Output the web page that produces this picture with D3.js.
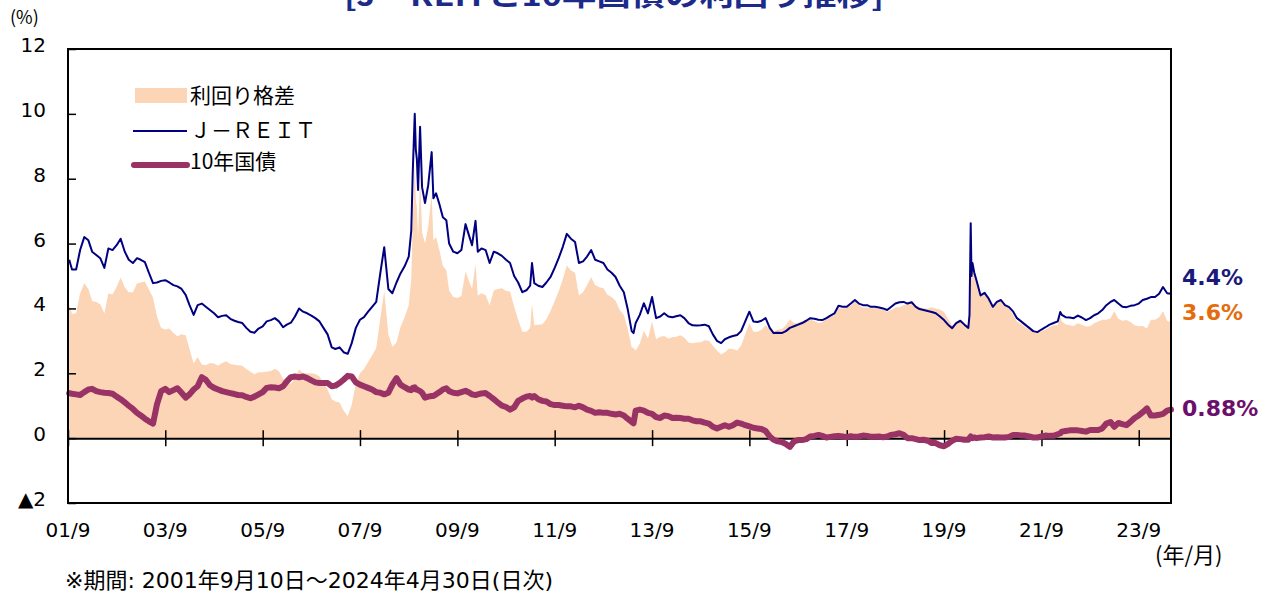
<!DOCTYPE html>
<html>
<head>
<meta charset="utf-8">
<script src="https://cdn.jsdelivr.net/npm/d3@7"></script>
<style>
  body { margin: 0; background: #fff; }
  text { font-family: "Noto Sans CJK JP", "Noto Sans", sans-serif; }
  .num { font-family: "DejaVu Sans", "Noto Sans CJK JP", sans-serif; }
</style>
</head>
<body>
<div id="chart"></div>
<script>
// daily series at roughly monthly steps (extra points at spikes)
const dates = [
  "2001-09-10","2001-10-01","2001-11-01","2001-12-01","2002-01-01","2002-02-01","2002-03-01","2002-04-01",
  "2002-05-01","2002-06-01","2002-07-01","2002-08-01","2002-09-01","2002-10-01","2002-11-01","2002-12-01",
  "2003-01-01","2003-02-01","2003-03-01","2003-04-01","2003-05-01","2003-06-01","2003-07-01","2003-08-01",
  "2003-09-01","2003-10-01","2003-11-01","2003-12-01","2004-01-01","2004-02-01","2004-03-01","2004-04-01",
  "2004-05-01","2004-06-01","2004-07-01","2004-08-01","2004-09-01","2004-10-01","2004-11-01","2004-12-01",
  "2005-01-01","2005-02-01","2005-03-01","2005-04-01","2005-05-01","2005-06-01","2005-07-01","2005-08-01",
  "2005-09-01","2005-10-01","2005-11-01","2005-12-01","2006-01-01","2006-02-01","2006-03-01","2006-04-01",
  "2006-05-01","2006-06-01","2006-07-01","2006-08-01","2006-09-01","2006-10-01","2006-11-01","2006-12-01",
  "2007-01-01","2007-02-01","2007-03-01","2007-04-01","2007-05-01","2007-06-01","2007-07-01","2007-08-01",
  "2007-09-01","2007-10-01","2007-11-01","2007-12-01","2008-01-01","2008-02-01","2008-03-01","2008-04-01",
  "2008-05-01","2008-06-01","2008-07-01","2008-08-01","2008-09-01","2008-09-20","2008-10-01","2008-10-16",
  "2008-10-24","2008-11-01","2008-11-10","2008-11-25","2008-12-10","2009-01-01","2009-01-25","2009-02-20",
  "2009-03-05","2009-03-25","2009-04-20","2009-05-15","2009-06-10","2009-07-01","2009-08-01","2009-09-01",
  "2009-10-01","2009-11-01","2009-12-01","2009-12-20","2010-01-15","2010-02-01","2010-03-01","2010-04-01",
  "2010-05-01","2010-06-01","2010-07-01","2010-08-01","2010-09-01","2010-10-01","2010-11-01","2010-12-01",
  "2011-01-01","2011-02-01","2011-03-01","2011-03-15","2011-04-01","2011-05-01","2011-06-01","2011-07-01",
  "2011-08-01","2011-09-01","2011-10-01","2011-11-01","2011-12-01","2012-01-01","2012-02-01","2012-03-01",
  "2012-04-01","2012-05-01","2012-06-01","2012-07-01","2012-08-01","2012-09-01","2012-10-01","2012-11-01",
  "2012-12-01","2013-01-01","2013-02-01","2013-03-01","2013-04-01","2013-04-15","2013-05-01","2013-06-01",
  "2013-07-01","2013-08-01","2013-09-01","2013-10-01","2013-11-01","2013-12-01","2014-01-01","2014-02-01",
  "2014-03-01","2014-04-01","2014-05-01","2014-06-01","2014-07-01","2014-08-01","2014-09-01","2014-10-01",
  "2014-11-01","2014-12-01","2015-01-01","2015-02-01","2015-03-01","2015-04-01","2015-05-01","2015-06-01",
  "2015-07-01","2015-08-01","2015-09-01","2015-10-01","2015-11-01","2015-12-01","2016-01-01","2016-02-01",
  "2016-03-01","2016-04-01","2016-05-01","2016-06-01","2016-07-01","2016-08-01","2016-09-01","2016-10-01",
  "2016-11-01","2016-12-01","2017-01-01","2017-02-01","2017-03-01","2017-04-01","2017-05-01","2017-06-01",
  "2017-07-01","2017-08-01","2017-09-01","2017-10-01","2017-11-01","2017-12-01","2018-01-01","2018-02-01",
  "2018-03-01","2018-04-01","2018-05-01","2018-06-01","2018-07-01","2018-08-01","2018-09-01","2018-10-01",
  "2018-11-01","2018-12-01","2019-01-01","2019-02-01","2019-03-01","2019-04-01","2019-05-01","2019-06-01",
  "2019-07-01","2019-08-01","2019-09-01","2019-10-01","2019-11-01","2019-12-01","2020-01-01","2020-02-01",
  "2020-03-01","2020-03-10","2020-03-19","2020-03-25","2020-04-01","2020-04-15","2020-05-01","2020-06-01",
  "2020-07-01","2020-08-01","2020-09-01","2020-10-01","2020-11-01","2020-12-01","2021-01-01","2021-02-01",
  "2021-03-01","2021-04-01","2021-05-01","2021-06-01","2021-07-01","2021-08-01","2021-09-01","2021-10-01",
  "2021-11-01","2021-12-01","2022-01-01","2022-01-20","2022-02-01","2022-03-01","2022-04-01","2022-05-01",
  "2022-06-01","2022-07-01","2022-08-01","2022-09-01","2022-10-01","2022-11-01","2022-12-01","2023-01-01",
  "2023-02-01","2023-03-01","2023-04-01","2023-05-01","2023-06-01","2023-07-01","2023-08-01","2023-09-01",
  "2023-10-01","2023-11-01","2023-12-01","2024-01-01","2024-02-01","2024-03-01","2024-04-01","2024-04-30"
];

const jreitYield = [
  5.5,5.2,5.2,5.8,6.2,6.1,5.75,5.65,
  5.55,5.25,5.85,5.8,5.95,6.15,5.75,5.5,
  5.4,5.55,5.5,5.43,5.1,4.78,4.8,4.85,
  4.87,4.8,4.72,4.68,4.6,4.42,4.1,3.8,
  4.1,4.15,4.05,3.95,3.85,3.73,3.77,3.79,
  3.68,3.62,3.58,3.55,3.4,3.28,3.25,3.38,
  3.45,3.6,3.64,3.7,3.6,3.42,3.5,3.56,
  3.75,4.0,3.9,3.85,3.78,3.7,3.6,3.4,
  3.2,2.8,2.75,2.8,2.65,2.6,2.93,3.4,
  3.65,3.73,3.9,4.05,4.2,5.1,5.89,4.6,
  4.47,4.8,5.08,5.3,5.6,6.4,8.2,10.0,
  8.9,8.6,7.65,9.6,7.74,7.25,7.8,8.82,
  7.4,7.55,7.2,6.81,6.72,6.0,5.75,5.7,
  5.8,6.6,6.2,5.95,6.7,5.75,5.85,5.8,
  5.4,5.75,5.7,5.62,5.5,5.4,5.0,4.8,
  4.5,4.56,4.7,5.4,4.78,4.7,4.66,4.8,
  4.97,5.25,5.55,5.9,6.3,6.15,6.05,5.4,
  5.45,5.6,5.8,5.5,5.45,5.4,5.2,5.1,
  4.97,4.7,4.5,4.0,3.3,3.24,3.55,3.8,
  4.16,3.85,4.35,3.7,3.75,3.85,3.75,3.73,
  3.76,3.79,3.7,3.55,3.48,3.47,3.48,3.5,
  3.45,3.2,3.0,2.93,3.05,3.11,3.15,3.18,
  3.3,3.6,3.9,3.6,3.58,3.62,3.7,3.4,
  3.24,3.25,3.24,3.3,3.4,3.45,3.5,3.55,
  3.62,3.7,3.68,3.65,3.64,3.7,3.78,3.85,
  4.08,4.05,4.05,4.15,4.26,4.15,4.1,4.1,
  4.05,4.05,4.03,4.0,3.95,4.05,4.15,4.19,
  4.2,4.15,4.19,4.05,3.98,3.95,3.92,3.89,
  3.85,3.75,3.64,3.5,3.39,3.55,3.62,3.5,
  3.4,3.8,6.63,5.0,5.4,5.1,4.87,4.4,
  4.48,4.3,4.05,4.2,4.26,4.1,4.04,3.9,
  3.7,3.6,3.5,3.4,3.3,3.27,3.35,3.42,
  3.5,3.55,3.6,3.89,3.8,3.73,3.72,3.7,
  3.78,3.72,3.64,3.7,3.79,3.85,3.95,4.1,
  4.2,4.26,4.15,4.05,4.04,4.08,4.1,4.15,
  4.26,4.3,4.35,4.35,4.45,4.66,4.47,4.45
];

const jgbYield = [
  1.39,1.37,1.35,1.33,1.42,1.5,1.52,1.45,
  1.42,1.4,1.39,1.37,1.28,1.2,1.1,1.0,
  0.9,0.78,0.7,0.6,0.52,0.45,1.05,1.45,
  1.52,1.42,1.48,1.54,1.4,1.25,1.35,1.5,
  1.6,1.88,1.8,1.63,1.55,1.5,1.45,1.42,
  1.39,1.36,1.33,1.32,1.27,1.23,1.28,1.35,
  1.42,1.55,1.57,1.56,1.54,1.6,1.75,1.88,
  1.9,1.88,1.9,1.85,1.78,1.72,1.7,1.7,
  1.7,1.6,1.62,1.7,1.8,1.92,1.9,1.72,
  1.65,1.6,1.55,1.5,1.42,1.4,1.35,1.4,
  1.65,1.85,1.65,1.57,1.5,1.48,1.55,1.57,
  1.5,1.5,1.48,1.45,1.4,1.25,1.28,1.3,
  1.3,1.35,1.42,1.5,1.54,1.45,1.4,1.38,
  1.42,1.46,1.4,1.35,1.33,1.35,1.38,1.39,
  1.3,1.2,1.1,1.0,0.96,0.88,0.95,1.15,
  1.22,1.28,1.3,1.25,1.3,1.2,1.15,1.13,
  1.05,1.02,1.02,1.0,0.98,0.98,0.95,1.0,
  0.95,0.88,0.84,0.78,0.8,0.78,0.78,0.75,
  0.73,0.75,0.7,0.6,0.5,0.46,0.85,0.88,
  0.85,0.78,0.75,0.65,0.62,0.7,0.68,0.62,
  0.63,0.62,0.6,0.6,0.55,0.52,0.52,0.48,
  0.45,0.35,0.3,0.35,0.4,0.35,0.4,0.48,
  0.45,0.4,0.36,0.32,0.3,0.28,0.22,0.05,
  -0.05,-0.1,-0.12,-0.18,-0.27,-0.1,-0.06,-0.06,
  -0.03,0.05,0.07,0.1,0.07,0.02,0.04,0.06,
  0.07,0.05,0.03,0.06,0.04,0.05,0.08,0.07,
  0.04,0.04,0.05,0.03,0.05,0.1,0.12,0.15,
  0.1,0.0,0.0,-0.03,-0.06,-0.05,-0.08,-0.15,
  -0.15,-0.22,-0.25,-0.18,-0.08,-0.02,-0.03,-0.05,
  -0.05,0.0,0.05,0.02,0.0,0.02,0.0,0.02,
  0.03,0.05,0.02,0.03,0.02,0.02,0.04,0.1,
  0.1,0.08,0.08,0.05,0.02,0.02,0.05,0.08,
  0.07,0.07,0.12,0.15,0.2,0.22,0.24,0.24,
  0.24,0.22,0.2,0.25,0.25,0.25,0.3,0.45,
  0.5,0.35,0.47,0.43,0.4,0.5,0.62,0.7,
  0.8,0.92,0.7,0.7,0.72,0.75,0.85,0.88
];

const yTickValues = [-2, 0, 2, 4, 6, 8, 10, 12];
const yTickLabels = ["▲2", "0", "2", "4", "6", "8", "10", "12"];
const xTickLabels = ["01/9","03/9","05/9","07/9","09/9","11/9","13/9","15/9","17/9","19/9","21/9","23/9"];
const legendLabels = ["利回り格差", "Ｊ－ＲＥＩＴ", "10年国債"];
const lastLabels = ["4.4%", "3.6%", "0.88%"];

const width = 1269, height = 595;
const margin = {top: 49, right: 98, bottom: 92, left: 68};

const parse = d3.timeParse("%Y-%m-%d");
const rows = dates.map((d, i) => ({
  date: parse(d),
  jreit: jreitYield[i],
  jgb: jgbYield[i],
  spread: jreitYield[i] - jgbYield[i]
}));

const x = d3.scaleTime()
  .domain([new Date(2001, 8, 1), new Date(2024, 3, 30)])
  .range([margin.left, width - margin.right]);
const y = d3.scaleLinear()
  .domain([-2, 12])
  .range([height - margin.bottom, margin.top]);

const svg = d3.select("#chart").append("svg")
  .attr("width", width)
  .attr("height", height)
  .style("display", "block")
  .style("background", "#fff");

// title, mostly cut off at the top edge like the source
svg.append("text")
  .attr("x", 614).attr("y", 6)
  .attr("text-anchor", "middle")
  .attr("textLength", 540)
  .attr("lengthAdjust", "spacingAndGlyphs")
  .style("font-size", "28px").style("font-weight", "bold")
  .style("fill", "#1c2a8a")
  .text("[J－REITと10年国債の利回り推移]");

svg.append("path")
  .datum(rows)
  .attr("fill", "#fbd5b5")
  .attr("d", d3.area()
    .x(d => x(d.date))
    .y0(y(0))
    .y1(d => y(d.spread)));

// zero line with crossing ticks
const xTickDates = xTickLabels.map(s => d3.timeParse("%y/%m")(s));
svg.append("g")
  .attr("transform", "translate(0," + y(0) + ")")
  .call(d3.axisBottom(x).tickValues(xTickDates).tickSize(8).tickSizeOuter(0).tickFormat(""))
  .call(g => g.select(".domain").attr("stroke", "#000").attr("stroke-width", 2))
  .call(g => g.selectAll(".tick line").attr("y1", -8).attr("stroke-width", 1.5));

svg.append("g")
  .selectAll("text")
  .data(xTickDates)
  .join("text")
  .attr("class", "num")
  .attr("x", d => x(d))
  .attr("y", 537)
  .attr("text-anchor", "middle")
  .style("font-size", "20px")
  .text((d, i) => xTickLabels[i]);

// left axis, ticks pointing inward
svg.append("g")
  .attr("transform", "translate(" + margin.left + ",0)")
  .call(d3.axisRight(y).tickValues(yTickValues).tickSize(8).tickFormat(""))
  .call(g => g.select(".domain").remove())
  .call(g => g.selectAll(".tick line").attr("stroke-width", 1.5));

svg.append("g")
  .selectAll("text")
  .data(yTickValues)
  .join("text")
  .attr("class", "num")
  .attr("x", 46)
  .attr("y", d => y(d) + 3)
  .attr("text-anchor", "end")
  .style("font-size", "20px")
  .text((d, i) => yTickLabels[i]);

svg.append("path")
  .datum(rows)
  .attr("fill", "none")
  .attr("stroke", "#000080")
  .attr("stroke-width", 2)
  .attr("stroke-linejoin", "round")
  .attr("d", d3.line().x(d => x(d.date)).y(d => y(d.jreit)));

svg.append("path")
  .datum(rows)
  .attr("fill", "none")
  .attr("stroke", "#993366")
  .attr("stroke-width", 6)
  .attr("stroke-linejoin", "round")
  .attr("stroke-linecap", "round")
  .attr("d", d3.line().x(d => x(d.date)).y(d => y(d.jgb)));

// frame
svg.append("rect")
  .attr("x", margin.left).attr("y", margin.top)
  .attr("width", width - margin.right - margin.left)
  .attr("height", height - margin.bottom - margin.top)
  .attr("fill", "none")
  .attr("stroke", "#000")
  .attr("stroke-width", 2);

// legend
const legend = svg.append("g");
legend.append("rect")
  .attr("x", 135).attr("y", 88).attr("width", 52).attr("height", 15)
  .attr("fill", "#fbd5b5");
legend.append("line")
  .attr("x1", 133).attr("x2", 187).attr("y1", 131).attr("y2", 131)
  .attr("stroke", "#000080").attr("stroke-width", 2);
legend.append("line")
  .attr("x1", 134).attr("x2", 187).attr("y1", 165).attr("y2", 165)
  .attr("stroke", "#993366").attr("stroke-width", 6).attr("stroke-linecap", "round");
legend.selectAll("text")
  .data(legendLabels)
  .join("text")
  .attr("x", 190)
  .attr("y", (d, i) => [103, 138, 169][i])
  .style("font-size", "21px")
  .text(d => d);

// latest values on the right
const lastColors = ["#1a1a7a", "#e46c0a", "#6b0f6b"];
svg.append("g")
  .selectAll("text")
  .data(lastLabels)
  .join("text")
  .attr("x", 1182)
  .attr("y", (d, i) => [285, 320, 416][i])
  .style("font-family", "'DejaVu Sans', Verdana, sans-serif")
  .style("font-size", "22px")
  .style("font-weight", "bold")
  .style("fill", (d, i) => lastColors[i])
  .text(d => d);

svg.append("text").attr("x", 10).attr("y", 24).style("font-size", "18px").text("(%)");
svg.append("text").attr("x", 1155).attr("y", 563)
  .style("font-size", "22px").text("(年/月)");
svg.append("text").attr("class", "num").attr("x", 65).attr("y", 588)
  .style("font-size", "22px")
  .text("※期間: 2001年9月10日～2024年4月30日(日次)");
</script>
</body>
</html>
